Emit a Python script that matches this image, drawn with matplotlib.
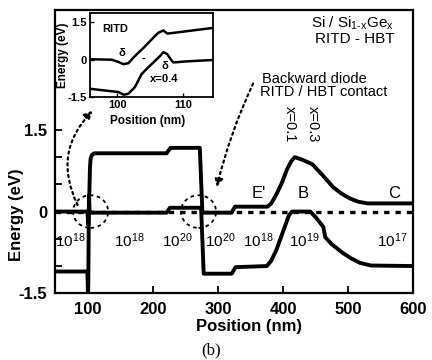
import numpy as np
import matplotlib.pyplot as plt
from matplotlib.patches import Ellipse

plt.rcParams['font.family'] = ['Liberation Sans', 'DejaVu Sans']
plt.rcParams['mathtext.fontset'] = 'custom'
plt.rcParams['mathtext.rm'] = 'Liberation Sans'
plt.rcParams['mathtext.it'] = 'Liberation Sans'
plt.rcParams['mathtext.bf'] = 'Liberation Sans:bold'

# ---- main band diagram data (position in nm, energy in eV) ----
cb_pos = [50, 99, 100.5, 102, 103, 104, 106, 110, 221, 227, 272, 276, 321, 326,
          376, 382, 390, 398, 406, 413, 418, 430, 445, 460, 477, 490, 503, 516, 530, 600]
cb_e = [0, 0, -0.25, 0.3, 0.8, 0.97, 1.04, 1.07, 1.07, 1.17, 1.17, -0.02, -0.02, 0.09,
        0.09, 0.15, 0.32, 0.52, 0.77, 0.93, 1.0, 0.95, 0.87, 0.68, 0.45, 0.33, 0.24, 0.18, 0.15, 0.15]

vb_pos = [50, 99, 100, 100.5, 101, 101.5, 102.5, 104, 221, 226, 274, 278, 321, 327,
          375, 382, 390, 396, 403, 409, 414, 442, 450, 462, 465, 475, 492, 505, 518, 535, 600]
vb_e = [-1.1, -1.1, -1.5, -1.3, -0.4, 0.3, 0.0, -0.02, -0.02, 0.07, 0.07, -1.14, -1.14, -1.02,
        -1.0, -0.9, -0.7, -0.5, -0.27, -0.07, 0.0, 0.0, -0.1, -0.28, -0.47, -0.6, -0.76, -0.86, -0.94, -0.99, -1.0]

fermi_pos = [50, 600]
fermi_e = [0, 0]

doping_pos = [72, 163, 238, 303, 362, 432, 568]
doping_exp = ['18', '18', '20', '20', '18', '19', '17']

region_labels = ["E'", 'B', 'C']
region_pos = [363, 431, 571]

# ---- inset (RITD detail) ----
in_cb_pos = [95.9, 99.2, 100.2, 100.95, 101.7, 102.7, 104, 105.2, 106.2, 107, 107.6, 108.5, 110.3, 114.5]
in_cb_e = [0.02, 0.0, -0.09, -0.18, -0.14, 0.15, 0.48, 0.81, 1.08, 1.18, 1.05, 1.08, 1.14, 1.28]
in_vb_pos = [95.9, 98.2, 100.2, 101, 101.7, 102.7, 103.7, 104.2, 105.2, 106.5, 107, 107.6, 108.1, 108.5, 110.3, 114.5]
in_vb_e = [-1.17, -1.24, -1.3, -1.41, -1.37, -1.1, -0.58, -0.44, -0.18, 0.15, 0.31, 0.22, 0.02, -0.11, -0.07, -0.01]

fig = plt.figure(figsize=(4.32, 3.6), dpi=100)
ax = fig.add_axes([55.5 / 432, 66.7 / 360, 357.5 / 432, 283.3 / 360])

ax.plot(fermi_pos, fermi_e, color='k', lw=2.4, dashes=(1.6, 1.8), zorder=2)
ax.plot(cb_pos, cb_e, color='k', lw=2.8, zorder=3, solid_joinstyle='round')
ax.plot(vb_pos, vb_e, color='k', lw=2.8, zorder=3, solid_joinstyle='round')

ax.set_xlim(50, 600)
ax.set_ylim(-1.5, 3.7)
ax.set_xticks(np.arange(100, 601, 100))
ax.set_yticks([-1.5, -1.0, -0.5, 0, 0.5, 1.0, 1.5])
ax.set_yticklabels(['-1.5', '', '', '0', '', '', '1.5'])
ax.tick_params(direction='in', length=5, width=1.3, labelsize=12, pad=6)
for lab in ax.get_xticklabels() + ax.get_yticklabels():
    lab.set_fontweight('bold')
for s in ax.spines.values():
    s.set_linewidth(1.6)

# dashed circles
for cx, w in [(104, 54), (270, 54)]:
    ax.add_patch(Ellipse((cx, 0), w, 0.6, fill=False, ls=(0, (2, 2)), lw=1.3, color='k', zorder=4))

# dotted arrows
ax.annotate('', xy=(107, 1.85), xytext=(84, 0.12),
            arrowprops=dict(arrowstyle='-|>', ls=':', lw=1.6, color='k', mutation_scale=12,
                            connectionstyle='arc3,rad=-0.35', shrinkA=0, shrinkB=0))
ax.annotate('', xy=(298, 0.45), xytext=(354, 2.35),
            arrowprops=dict(arrowstyle='-|>', ls=':', lw=1.6, color='k', mutation_scale=12,
                            connectionstyle='arc3,rad=0.05', shrinkA=0, shrinkB=0))

for p, e in zip(doping_pos, doping_exp):
    ax.text(p, -0.53, '$10^{%s}$' % e, ha='center', va='center', fontsize=11)
for p, t in zip(region_pos, region_labels):
    ax.text(p, 0.33, t, ha='center', va='center', fontsize=12)

ax.text(411, 1.61, 'x=0.1', rotation=-90, ha='center', va='center', fontsize=10.5)
ax.text(446, 1.61, 'x=0.3', rotation=-90, ha='center', va='center', fontsize=10.5)

ax.text(571, 3.46, 'Si / Si$_{1\u2010x}$Ge$_x$', ha='right', va='center', fontsize=11)
ax.text(571, 3.17, 'RITD - HBT', ha='right', va='center', fontsize=11)
ax.text(367, 2.44, 'Backward diode', ha='left', va='center', fontsize=10.5)
ax.text(364, 2.19, 'RITD / HBT contact', ha='left', va='center', fontsize=10.5)

fig.text(17 / 432, 1 - 215 / 360, 'Energy (eV)', rotation=90, ha='center', va='center',
         fontsize=12, fontweight='bold')
fig.text(249 / 432, 1 - 326 / 360, 'Position (nm)', ha='center', va='center',
         fontsize=12, fontweight='bold')
fig.text(211 / 432, 1 - 350 / 360, '(b)', ha='center', va='center', fontsize=12,
         family='Liberation Serif')

# ---- inset ----
axi = fig.add_axes([90 / 432, 1 - 97 / 360, 123 / 432, 84 / 360])
axi.plot(in_cb_pos, in_cb_e, color='k', lw=1.8)
axi.plot(in_vb_pos, in_vb_e, color='k', lw=1.8)
axi.set_xlim(95.9, 114.5)
axi.set_ylim(-1.5, 1.88)
axi.set_xticks([100, 110])
axi.set_yticks([-1.5, 0, 1.5])
axi.set_yticklabels(['-1.5', '0', '1.5'])
axi.tick_params(direction='in', length=3, width=1, labelsize=8, pad=2)
for lab in axi.get_xticklabels() + axi.get_yticklabels():
    lab.set_fontweight('bold')
for s in axi.spines.values():
    s.set_linewidth(1.3)
axi.text(97.7, 1.25, 'RITD', ha='left', va='center', fontsize=8, fontweight='bold')
axi.text(100.7, 0.29, '\u03b4', ha='center', va='center', fontsize=8, fontweight='bold')
axi.text(104, 0.05, '-', ha='center', va='center', fontsize=8, fontweight='bold')
axi.text(107.2, -0.25, '\u03b4', ha='center', va='center', fontsize=8, fontweight='bold')
axi.text(107.1, -0.77, 'x=0.4', ha='center', va='center', fontsize=8, fontweight='bold')
fig.text(63 / 432, 1 - 55 / 360, 'Energy (eV)', rotation=90, ha='center', va='center',
         fontsize=8.5, fontweight='bold')
fig.text(148 / 432, 1 - 121 / 360, 'Position (nm)', ha='center', va='center',
         fontsize=8.5, fontweight='bold')

fig.savefig('out.png', dpi=100)
